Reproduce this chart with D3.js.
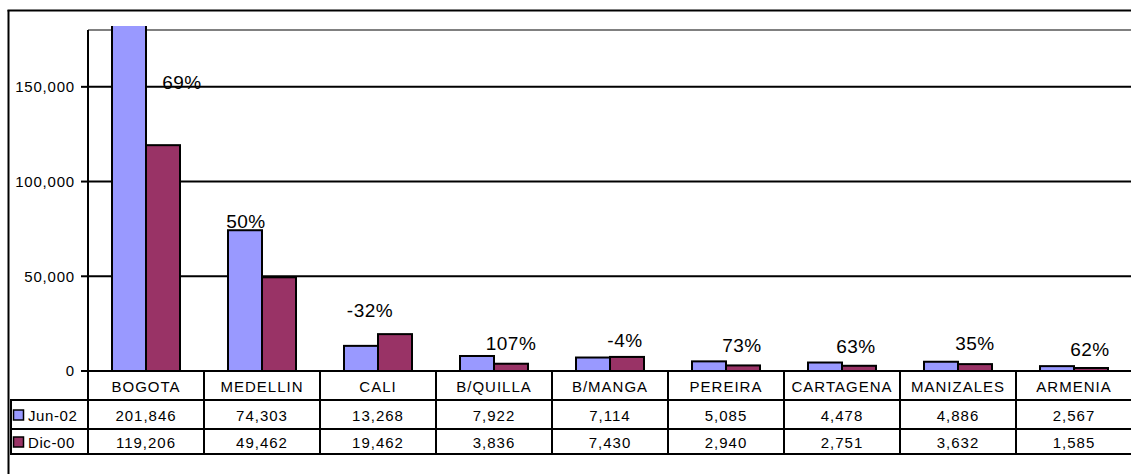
<!DOCTYPE html>
<html><head><meta charset="utf-8">
<script src="https://cdn.jsdelivr.net/npm/d3@7"></script>
<style>html,body{margin:0;background:#fff;overflow:hidden}svg{display:block;font-family:"Liberation Sans",Arial,sans-serif}</style>
</head><body>
<script>
const categories = ["BOGOTA","MEDELLIN","CALI","B/QUILLA","B/MANGA","PEREIRA","CARTAGENA","MANIZALES","ARMENIA"];
const seriesNames = ["Jun-02","Dic-00"];
const jun02 = [201846,74303,13268,7922,7114,5085,4478,4886,2567];
const dic00 = [119206,49462,19462,3836,7430,2940,2751,3632,1585];
const pctLabels = ["69%","50%","-32%","107%","-4%","73%","63%","35%","62%"];
const yTicks = [0,50000,100000,150000];

// layout (pixels): label nudges relative to category centre / taller bar top
const labelNudge = [[36,52],[-16,-9],[-8,-24],[17,-13],[15,-17],[16,-16],[14,-16],[17,-18],[16,-17]];
const colors = ["#9999FF","#993366"];

const W=1131,H=474;
const svg=d3.select("body").append("svg").attr("width",W).attr("height",H);
svg.append("rect").attr("width",W).attr("height",H).attr("fill","#fff");
// outer frame (top and left edges visible)
svg.append("line").attr("x1",7.5).attr("x2",W).attr("y1",10.5).attr("y2",10.5).attr("stroke","#000").attr("stroke-width",2);
svg.append("line").attr("x1",8.5).attr("x2",8.5).attr("y1",10).attr("y2",H).attr("stroke","#000").attr("stroke-width",2);

const left=88, catW=116;
const x=d3.scaleBand().domain(categories).range([left,left+catW*categories.length]).padding(0);
const xs=d3.scaleBand().domain(seriesNames).range([24,92]).padding(0);
const y=d3.scaleLinear().domain([0,180000]).range([371,30]);
const rows=[371,400,429,454];
const series=[jun02,dic00];

// top gray plot border
svg.append("line").attr("x1",left).attr("x2",W).attr("y1",y(180000)).attr("y2",y(180000))
  .attr("stroke","#808080").attr("stroke-width",2);
// gridlines
svg.selectAll(".grid").data(yTicks.filter(d=>d>0)).join("line")
  .attr("x1",left).attr("x2",W).attr("y1",d=>y(d)).attr("y2",d=>y(d))
  .attr("stroke","#000").attr("stroke-width",2);

// bars
const defs=svg.append("defs");
defs.append("clipPath").attr("id","clip").append("rect").attr("x",left).attr("y",26).attr("width",W).attr("height",400);
const bg=svg.append("g").attr("clip-path","url(#clip)");
series.forEach((vals,si)=>{
  bg.selectAll(".b"+si).data(vals).join("rect")
    .attr("x",(d,i)=>x(categories[i])+xs(seriesNames[si]))
    .attr("width",xs.bandwidth())
    .attr("y",d=>y(d)).attr("height",d=>y(0)-y(d))
    .attr("fill",colors[si]).attr("stroke","#000").attr("stroke-width",2);
});

// y axis
svg.append("line").attr("x1",left).attr("x2",left).attr("y1",30).attr("y2",rows[3]).attr("stroke","#000").attr("stroke-width",2);
svg.selectAll(".tick").data(yTicks).join("line")
  .attr("x1",81).attr("x2",left).attr("y1",d=>y(d)).attr("y2",d=>y(d)).attr("stroke","#000").attr("stroke-width",2);
const fmt=d3.format(",");
svg.selectAll(".tl").data(yTicks).join("text")
  .attr("x",75).attr("y",d=>y(d)).attr("dy","0.35em").attr("text-anchor","end")
  .attr("font-size",15).attr("letter-spacing",0.8).attr("fill","#000").text(d=>fmt(d));

// percent labels
svg.selectAll(".pl").data(pctLabels).join("text")
  .attr("x",(d,i)=>x(categories[i])+catW/2+labelNudge[i][0])
  .attr("y",(d,i)=>y(Math.min(Math.max(jun02[i],dic00[i]),180000))+labelNudge[i][1])
  .attr("dy","0.35em").attr("text-anchor","middle")
  .attr("font-size",19).attr("letter-spacing",0.5).attr("fill","#000").text(d=>d);

// data table
const tg=svg.append("g");
tg.append("line").attr("x1",left).attr("x2",W).attr("y1",rows[0]).attr("y2",rows[0]).attr("stroke","#000").attr("stroke-width",2);
[rows[1],rows[2],rows[3]].forEach(r=>{
  tg.append("line").attr("x1",10).attr("x2",W).attr("y1",r).attr("y2",r).attr("stroke","#000").attr("stroke-width",2);
});
tg.append("line").attr("x1",11).attr("x2",11).attr("y1",rows[1]).attr("y2",rows[3]).attr("stroke","#000").attr("stroke-width",2);
tg.selectAll(".vl").data(categories.slice(0,-1)).join("line")
  .attr("x1",d=>x(d)+catW).attr("x2",d=>x(d)+catW).attr("y1",rows[0]).attr("y2",rows[3])
  .attr("stroke","#000").attr("stroke-width",2);
tg.selectAll(".cn").data(categories).join("text")
  .attr("x",d=>x(d)+catW/2).attr("y",(rows[0]+rows[1])/2+1).attr("dy","0.35em").attr("text-anchor","middle")
  .attr("font-size",15).attr("letter-spacing",1).text(d=>d);
series.forEach((vals,si)=>{
  const cy=(rows[si+1]+rows[si+2])/2+1;
  tg.selectAll(".v"+si).data(vals).join("text")
    .attr("x",(d,i)=>x(categories[i])+catW/2).attr("y",cy).attr("dy","0.35em").attr("text-anchor","middle")
    .attr("font-size",15).attr("letter-spacing",1).text(d=>fmt(d));
  tg.append("rect").attr("x",13.5).attr("y",cy-5.5).attr("width",10).attr("height",10)
    .attr("fill",colors[si]).attr("stroke","#000").attr("stroke-width",1.5);
  tg.append("text").attr("x",28).attr("y",cy).attr("dy","0.35em")
    .attr("font-size",15).attr("letter-spacing",0.6).text(seriesNames[si]);
});
</script>
</body></html>
